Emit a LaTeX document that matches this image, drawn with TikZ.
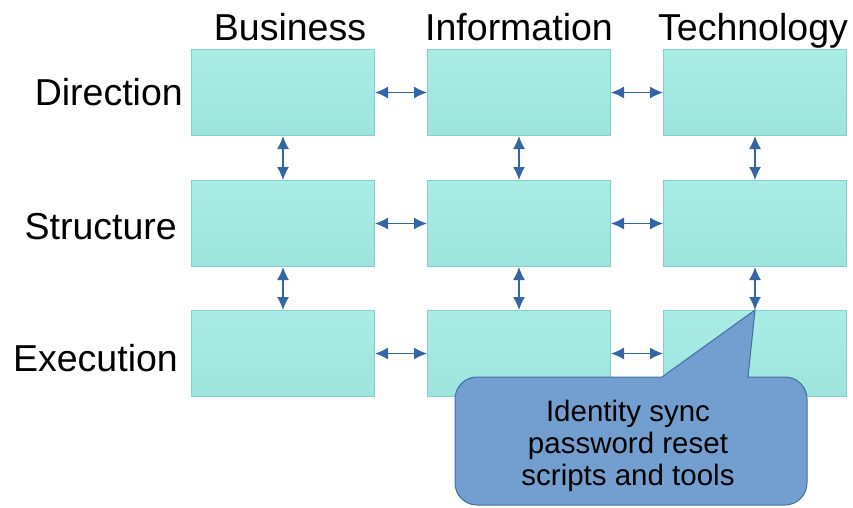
\documentclass[tikz,border=0pt]{standalone}
\usepackage{fontspec}
\setmainfont{Liberation Sans}
\usetikzlibrary{arrows.meta}
\definecolor{cellTop}{RGB}{170,236,230}
\definecolor{cellBot}{RGB}{156,228,221}
\definecolor{cellEdge}{RGB}{128,210,202}
\definecolor{linkBlue}{RGB}{52,101,164}
\definecolor{noteFill}{RGB}{114,159,207}
\definecolor{noteEdge}{RGB}{69,110,160}
\tikzset{
  cell/.style={draw=cellEdge, line width=1pt, top color=cellTop, bottom color=cellBot,
    minimum width=183pt, minimum height=86pt, inner sep=0pt, anchor=north west},
  head/.style={font=\fontsize{37.5}{45}\selectfont, inner sep=0pt, anchor=base},
  rowlabel/.style={font=\fontsize{37.5}{45}\selectfont, inner sep=0pt, anchor=base east},
  link/.style={linkBlue, line width=1.3pt, {Latex[length=13pt,width=12pt]}-{Latex[length=13pt,width=12pt]}},
}
\begin{document}
\begin{tikzpicture}[x=1pt,y=-1pt]
\useasboundingbox (0,0) rectangle (853,507);

% column headings
\node[head] (hBus) at (290,40) {Business};
\node[head] (hInf) at (519,40) {Information};
\node[head] (hTec) at (753,40) {Technology};

% row headings
\node[rowlabel] (rDir) at (183,105) {Direction};
\node[rowlabel] (rStr) at (177,239) {Structure};
\node[rowlabel] (rExe) at (178,371) {Execution};

% grid of cells
\foreach \c/\x in {1/191,2/427,3/663}{
  \foreach \r/\y in {1/49,2/180,3/310}{
    \node[cell] (c\r\c) at (\x,\y) {};
  }
}

% horizontal links
\foreach \r in {1,2,3}{
  \draw[link] (c\r1.east) -- (c\r2.west);
  \draw[link] (c\r2.east) -- (c\r3.west);
}
% vertical links
\foreach \c in {1,2,3}{
  \draw[link] (c1\c.south) -- (c2\c.north);
  \draw[link] (c2\c.south) -- (c3\c.north);
}

% callout
\coordinate (tip) at (755,310);
\draw[fill=noteFill, draw=noteEdge, line width=1pt]
  (748,377) [rounded corners=22pt] -- (807,377) -- (807,505) -- (455,505) -- (455,377)
  [sharp corners] -- (662,377) -- (tip) -- cycle;
\node[font=\fontsize{29.5}{32}\selectfont, align=center, inner sep=0pt, anchor=base]
  (note) at (628,485) {Identity sync\\password reset\\scripts and tools};
\end{tikzpicture}
\end{document}
